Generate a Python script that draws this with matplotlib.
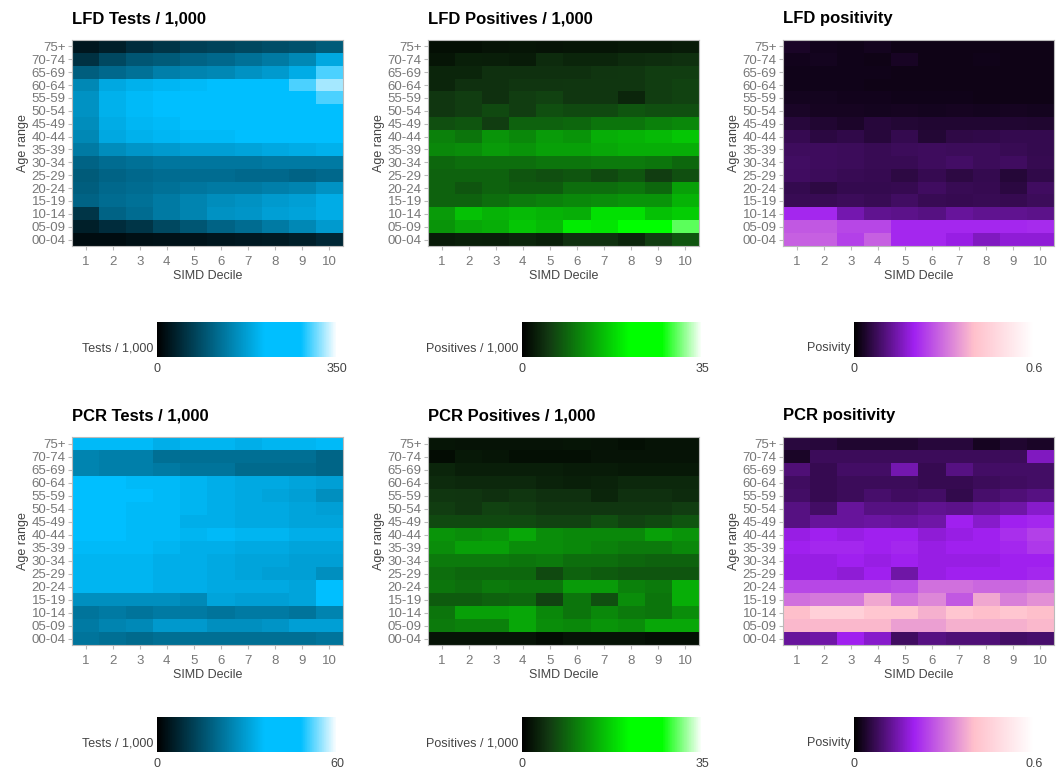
import numpy as np
import matplotlib
matplotlib.use("Agg")
import matplotlib.pyplot as plt
from matplotlib.colors import LinearSegmentedColormap

plt.rcParams['font.family'] = ['Liberation Sans', 'DejaVu Sans']

# Age bands, listed top to bottom as drawn
ages = ["75+", "70-74", "65-69", "60-64", "55-59", "50-54", "45-49", "40-44",
        "35-39", "30-34", "25-29", "20-24", "15-19", "10-14", "05-09", "00-04"]
deciles = [1, 2, 3, 4, 5, 6, 7, 8, 9, 10]

lfd_tests = [
    [25, 35, 50, 60, 70, 75, 80, 85, 90, 100],
    [55, 80, 95, 100, 110, 115, 125, 135, 150, 185],
    [105, 115, 125, 140, 145, 150, 160, 170, 190, 300],
    [150, 185, 195, 200, 205, 210, 215, 225, 300, 325],
    [160, 195, 205, 210, 210, 215, 220, 230, 245, 300],
    [160, 195, 205, 210, 210, 215, 220, 230, 240, 250],
    [155, 190, 200, 205, 210, 210, 215, 225, 235, 240],
    [150, 185, 195, 200, 205, 205, 210, 220, 225, 230],
    [135, 155, 165, 170, 175, 175, 180, 185, 190, 195],
    [110, 120, 125, 130, 130, 130, 130, 135, 135, 135],
    [100, 110, 115, 120, 120, 120, 115, 115, 110, 115],
    [105, 115, 120, 125, 130, 135, 135, 140, 145, 160],
    [110, 120, 125, 135, 145, 155, 160, 170, 175, 190],
    [60, 110, 120, 135, 145, 160, 165, 175, 180, 190],
    [35, 50, 60, 80, 95, 110, 120, 135, 150, 170],
    [15, 15, 18, 20, 22, 25, 28, 30, 35, 45],
]

lfd_pos = [
    [1.5, 1.5, 1.8, 2.0, 1.8, 2.0, 2.0, 2.2, 2.2, 2.5],
    [2.0, 3.0, 2.8, 2.5, 4.0, 3.5, 3.5, 4.0, 4.2, 4.5],
    [3.5, 3.5, 4.5, 4.5, 4.5, 4.5, 4.8, 5.0, 5.5, 5.5],
    [3.5, 4.5, 4.5, 4.8, 4.8, 5.0, 5.0, 5.0, 5.5, 6.0],
    [5.0, 5.5, 4.5, 5.5, 6.0, 5.0, 5.0, 3.5, 5.5, 6.0],
    [5.0, 5.5, 6.5, 5.5, 7.0, 6.5, 6.5, 7.5, 7.0, 7.0],
    [7.0, 7.5, 5.5, 8.5, 8.5, 9.0, 10.0, 10.0, 11.0, 11.5],
    [11.0, 10.0, 12.5, 11.5, 13.0, 12.5, 14.5, 15.0, 15.5, 16.5],
    [11.5, 12.0, 13.0, 12.5, 13.5, 13.5, 14.0, 14.5, 14.5, 14.5],
    [9.0, 9.5, 9.5, 9.5, 10.0, 10.0, 10.5, 10.5, 10.0, 9.0],
    [8.5, 8.5, 8.5, 7.5, 7.0, 7.5, 6.5, 7.5, 5.5, 7.0],
    [8.5, 7.5, 8.5, 8.0, 8.0, 9.5, 9.5, 10.0, 9.0, 13.5],
    [8.5, 8.5, 9.5, 10.5, 11.0, 11.5, 12.0, 12.5, 12.5, 15.0],
    [13.0, 16.0, 15.0, 15.5, 15.0, 14.5, 18.5, 18.5, 16.0, 17.0],
    [12.5, 14.0, 14.5, 16.5, 15.5, 19.5, 19.0, 22.5, 22.0, 30.0],
    [2.5, 3.0, 2.8, 3.5, 3.0, 4.5, 4.5, 3.5, 5.5, 7.5],
]

lfd_posit = [
    [0.035, 0.025, 0.022, 0.026, 0.020, 0.020, 0.020, 0.020, 0.020, 0.020],
    [0.025, 0.027, 0.022, 0.020, 0.032, 0.020, 0.020, 0.022, 0.020, 0.020],
    [0.022, 0.022, 0.022, 0.022, 0.020, 0.020, 0.020, 0.020, 0.020, 0.020],
    [0.022, 0.022, 0.022, 0.020, 0.020, 0.020, 0.020, 0.020, 0.020, 0.020],
    [0.027, 0.027, 0.025, 0.025, 0.022, 0.022, 0.022, 0.020, 0.020, 0.020],
    [0.034, 0.030, 0.030, 0.027, 0.030, 0.027, 0.030, 0.027, 0.030, 0.027],
    [0.050, 0.043, 0.036, 0.050, 0.046, 0.043, 0.043, 0.043, 0.043, 0.040],
    [0.070, 0.055, 0.062, 0.050, 0.066, 0.046, 0.060, 0.062, 0.066, 0.066],
    [0.078, 0.078, 0.075, 0.072, 0.075, 0.078, 0.075, 0.075, 0.072, 0.066],
    [0.084, 0.078, 0.075, 0.072, 0.072, 0.078, 0.086, 0.075, 0.082, 0.070],
    [0.082, 0.075, 0.072, 0.070, 0.058, 0.070, 0.058, 0.066, 0.048, 0.062],
    [0.066, 0.058, 0.066, 0.066, 0.070, 0.082, 0.072, 0.070, 0.055, 0.082],
    [0.072, 0.072, 0.075, 0.072, 0.084, 0.072, 0.070, 0.072, 0.070, 0.075],
    [0.210, 0.210, 0.147, 0.120, 0.115, 0.110, 0.130, 0.120, 0.120, 0.115],
    [0.270, 0.270, 0.250, 0.250, 0.210, 0.210, 0.210, 0.210, 0.210, 0.215],
    [0.280, 0.280, 0.240, 0.280, 0.210, 0.210, 0.190, 0.160, 0.180, 0.180],
]

pcr_tests = [
    [35, 35, 35, 33, 34, 34, 33, 34, 34, 35],
    [25, 24, 24, 21, 21, 21, 21, 21, 21, 19],
    [25, 24, 24, 23, 22, 22, 20, 20, 20, 19],
    [36, 36, 35, 35, 34, 33, 32, 32, 31, 30],
    [36, 37, 36, 35, 34, 33, 32, 31, 30, 27],
    [36, 36, 35, 35, 34, 33, 32, 32, 31, 30],
    [36, 36, 35, 35, 33, 33, 32, 32, 31, 31],
    [36, 36, 35, 35, 34, 35, 34, 34, 33, 33],
    [35, 35, 35, 34, 33, 33, 32, 32, 31, 31],
    [34, 34, 34, 33, 33, 32, 31, 31, 30, 30],
    [34, 34, 34, 33, 33, 32, 31, 30, 30, 27],
    [34, 34, 34, 33, 33, 32, 32, 32, 31, 37],
    [27, 27, 27, 27, 26, 31, 30, 30, 31, 37],
    [22, 23, 22, 23, 23, 22, 23, 23, 22, 25],
    [23, 25, 26, 29, 29, 27, 27, 28, 30, 30],
    [22, 21, 20, 21, 21, 21, 21, 21, 21, 22],
]

pcr_pos = [
    [2.0, 1.8, 1.8, 1.8, 1.8, 2.0, 1.8, 1.5, 1.8, 1.8],
    [1.2, 2.2, 2.0, 1.5, 1.5, 1.5, 1.8, 1.8, 1.8, 1.8],
    [3.5, 2.8, 2.8, 2.8, 2.8, 2.5, 2.5, 2.2, 2.2, 2.2],
    [4.0, 3.8, 3.8, 3.8, 3.2, 3.0, 3.2, 3.8, 3.8, 3.8],
    [5.0, 4.8, 4.5, 5.0, 4.5, 4.5, 3.5, 4.5, 4.5, 4.0],
    [5.5, 5.0, 6.0, 5.5, 5.0, 5.0, 5.0, 5.0, 5.0, 5.5],
    [6.5, 6.5, 6.5, 6.5, 6.0, 6.0, 7.0, 6.0, 6.5, 7.5],
    [12.5, 12.0, 12.5, 14.0, 12.0, 11.5, 11.5, 11.5, 13.5, 12.5],
    [12.0, 13.5, 13.5, 12.0, 12.0, 11.5, 11.0, 10.5, 10.5, 11.5],
    [10.5, 10.5, 10.5, 10.0, 10.5, 9.5, 9.5, 9.0, 8.5, 8.5],
    [9.5, 9.0, 9.0, 9.0, 6.5, 8.5, 8.0, 7.5, 7.5, 7.5],
    [10.0, 9.5, 10.5, 10.0, 10.0, 13.0, 13.0, 11.0, 10.5, 14.5],
    [8.0, 8.0, 8.5, 9.0, 6.0, 10.0, 7.0, 12.0, 10.0, 14.5],
    [10.0, 13.5, 13.5, 14.0, 11.5, 10.0, 11.5, 10.5, 10.0, 12.0],
    [10.5, 11.0, 11.0, 14.0, 12.0, 11.5, 12.5, 12.0, 14.0, 14.0],
    [1.8, 1.8, 1.8, 1.8, 1.2, 1.8, 1.8, 1.8, 1.5, 1.5],
]

pcr_posit = [
    [0.053, 0.050, 0.040, 0.040, 0.040, 0.050, 0.050, 0.030, 0.040, 0.035],
    [0.035, 0.075, 0.075, 0.075, 0.075, 0.075, 0.075, 0.075, 0.075, 0.160],
    [0.100, 0.070, 0.085, 0.085, 0.147, 0.070, 0.110, 0.085, 0.085, 0.085],
    [0.080, 0.070, 0.075, 0.075, 0.075, 0.070, 0.070, 0.075, 0.080, 0.085],
    [0.085, 0.070, 0.075, 0.090, 0.080, 0.085, 0.065, 0.090, 0.100, 0.110],
    [0.110, 0.085, 0.130, 0.110, 0.110, 0.120, 0.115, 0.130, 0.140, 0.170],
    [0.110, 0.130, 0.130, 0.135, 0.130, 0.140, 0.200, 0.170, 0.200, 0.210],
    [0.190, 0.200, 0.190, 0.200, 0.200, 0.180, 0.190, 0.200, 0.220, 0.240],
    [0.200, 0.210, 0.210, 0.200, 0.210, 0.190, 0.200, 0.200, 0.210, 0.230],
    [0.190, 0.190, 0.200, 0.190, 0.200, 0.190, 0.190, 0.190, 0.200, 0.200],
    [0.190, 0.190, 0.180, 0.200, 0.140, 0.190, 0.200, 0.200, 0.200, 0.210],
    [0.250, 0.250, 0.250, 0.250, 0.260, 0.300, 0.300, 0.290, 0.290, 0.300],
    [0.300, 0.310, 0.310, 0.370, 0.300, 0.330, 0.270, 0.370, 0.320, 0.340],
    [0.400, 0.450, 0.450, 0.420, 0.420, 0.380, 0.420, 0.400, 0.420, 0.400],
    [0.390, 0.390, 0.390, 0.390, 0.360, 0.360, 0.380, 0.380, 0.380, 0.390],
    [0.130, 0.140, 0.200, 0.170, 0.080, 0.110, 0.100, 0.100, 0.085, 0.090],
]

blue = LinearSegmentedColormap.from_list(
    "blue", [(0, "#000000"), (0.6, "#00bfff"), (0.8, "#00bfff"), (1, "#ffffff")])
green = LinearSegmentedColormap.from_list(
    "green", [(0, "#000000"), (0.15, "#123a12"), (0.6, "#00ff00"), (0.78, "#00ff00"),
              (1, "#ffffff")])
purple = LinearSegmentedColormap.from_list(
    "purple", [(0, "#000000"), (0.333, "#a020f0"), (0.667, "#ffc0cb"), (1, "#ffffff")])

panels = [
    ("LFD Tests / 1,000", lfd_tests, blue, 350, "Tests / 1,000"),
    ("LFD Positives / 1,000", lfd_pos, green, 35, "Positives / 1,000"),
    ("LFD positivity", lfd_posit, purple, 0.6, "Posivity"),
    ("PCR Tests / 1,000", pcr_tests, blue, 60, "Tests / 1,000"),
    ("PCR Positives / 1,000", pcr_pos, green, 35, "Positives / 1,000"),
    ("PCR positivity", pcr_posit, purple, 0.6, "Posivity"),
]

W, H = 1056, 776
fig = plt.figure(figsize=(W / 100, H / 100), dpi=100)

lefts = [72, 428, 783]
heat_top = [40, 437]
heat_h = [206, 208]
bar_top = [322, 717]
bar_lefts = [157, 522, 854]
grey = "#777777"

for i, (title, data, cmap, vmax, cblabel) in enumerate(panels):
    r, c = divmod(i, 3)
    ax = fig.add_axes([lefts[c] / W, 1 - (heat_top[r] + heat_h[r]) / H, 271 / W, heat_h[r] / H])
    im = ax.imshow(np.array(data), cmap=cmap, vmin=0, vmax=vmax, aspect="auto",
                   interpolation="nearest",
                   extent=[0.5, 10.5, len(ages) - 0.5, -0.5])
    ax.set_yticks(range(len(ages)))
    ax.set_yticklabels(ages)
    ax.set_xticks(deciles)
    ax.tick_params(colors="#bbbbbb", labelcolor=grey, labelsize=9.5, length=3, width=0.8)
    ax.tick_params(axis="y", pad=1.5)
    ax.tick_params(axis="x", pad=4)
    ax.set_xlabel("SIMD Decile", fontsize=9, color="#444444", labelpad=2)
    ax.set_ylabel("Age range", fontsize=9, color="#444444", labelpad=2)
    ax.set_title(title, loc="left", fontsize=12, fontweight="bold", pad=12)
    for s in ax.spines.values():
        s.set_color("#bbbbbb")
        s.set_linewidth(0.8)

    cax = fig.add_axes([bar_lefts[c] / W, 1 - (bar_top[r] + 35) / H, 180 / W, 35 / H])
    cb = fig.colorbar(im, cax=cax, orientation="horizontal", ticks=[0, vmax])
    cb.outline.set_visible(False)
    cb.ax.tick_params(length=0, labelsize=9, labelcolor="#444444", pad=4)
    cb.ax.set_xticklabels(["0", f"{vmax:g}"])
    cax.text(-0.02, 0.25, cblabel, transform=cax.transAxes, ha="right", va="center",
             fontsize=9, color="#444444")

fig.savefig("out.png", dpi=100)
